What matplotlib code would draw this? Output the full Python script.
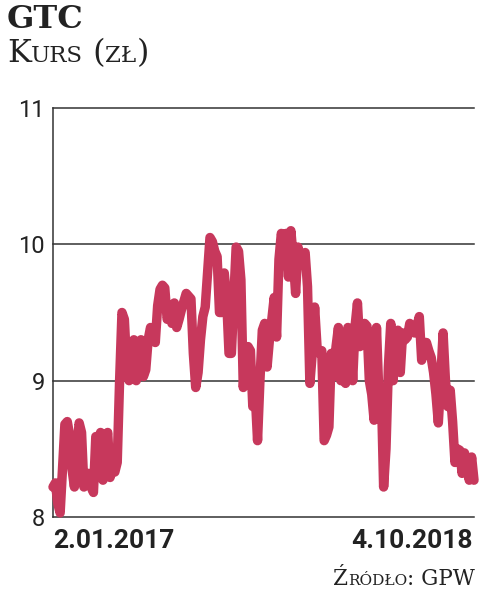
import matplotlib
matplotlib.use("Agg")
import matplotlib.pyplot as plt
import pandas as pd

# kurs GTC (zł), 2.01.2017 - 4.10.2018
kurs = [
    8.22, 8.25, 8.10, 8.03, 8.35, 8.68, 8.70, 8.60, 8.35, 8.22,
    8.50, 8.69, 8.62, 8.22, 8.30, 8.32, 8.22, 8.18, 8.59, 8.55,
    8.62, 8.27, 8.55, 8.62, 8.29, 8.37, 8.33, 8.40, 9.00, 9.50,
    9.45, 9.10, 9.00, 9.20, 9.30, 9.00, 9.25, 9.30, 9.03, 9.08,
    9.30, 9.39, 9.30, 9.28, 9.55, 9.67, 9.70, 9.68, 9.45, 9.50,
    9.42, 9.57, 9.39, 9.45, 9.52, 9.58, 9.64, 9.62, 9.60, 9.20,
    8.95, 9.06, 9.30, 9.47, 9.54, 9.80, 10.05, 10.02, 9.95, 9.91,
    9.50, 9.50, 9.79, 9.60, 9.20, 9.20, 9.60, 9.98, 9.95, 9.74,
    8.95, 9.20, 9.25, 9.22, 8.81, 8.91, 8.56, 9.00, 9.37, 9.42,
    9.10, 9.30, 9.45, 9.61, 9.32, 9.89, 10.08, 10.00, 10.08, 9.76,
    10.10, 9.90, 9.64, 9.98, 9.86, 9.90, 9.94, 9.69, 8.98, 9.20,
    9.54, 9.25, 9.20, 9.22, 8.56, 8.60, 8.66, 9.20, 9.03, 9.25,
    9.39, 9.00, 9.35, 8.98, 9.39, 9.37, 9.00, 9.40, 9.57, 9.25,
    9.35, 9.42, 9.40, 9.00, 8.90, 8.71, 9.39, 8.90, 8.95, 8.22,
    8.50, 9.10, 9.42, 9.00, 9.30, 9.37, 9.06, 9.35, 9.30, 9.32,
    9.42, 9.38, 9.35, 9.40, 9.47, 9.15, 9.28, 9.28, 9.22, 9.17,
    9.06, 8.90, 8.69, 9.00, 9.35, 9.00, 8.81, 8.93, 8.70, 8.40,
    8.50, 8.49, 8.32, 8.47, 8.40, 8.27, 8.44, 8.27,
]
start, end = "2017-01-02", "2018-10-04"
y_ticks = [8, 9, 10, 11]

LINE = "#c7385c"
DARK = "#222222"
W, H = 482, 593


def fx(px):
    return px / W


def fy(py):
    return 1 - py / H


def smallcaps(fig, x, y, parts, **kw):
    # tekst "kapitalikami": kolejne kawałki o różnych rozmiarach
    r = fig.canvas.get_renderer()
    for s, size in parts:
        t = fig.text(fx(x), fy(y), s, fontsize=size, va="baseline", ha="left", **kw)
        x += t.get_window_extent(renderer=r).width


dates = pd.date_range(start, end, periods=len(kurs))

fig = plt.figure(figsize=(4.82, 5.93), dpi=100)
ax = fig.add_axes([fx(53), fy(517), fx(474) - fx(53), fy(108) - fy(517)])

for v in y_ticks[1:]:
    ax.axhline(v, color="#333333", lw=1.1, clip_on=False, zorder=1)

ax.plot(dates, kurs, color=LINE, lw=6.8, solid_joinstyle="round",
        solid_capstyle="round", clip_on=False, zorder=3)

ax.set_xlim(dates[0], dates[-1])
ax.set_ylim(8, 11)
ax.set_yticks(y_ticks)
ax.set_yticklabels([str(v) for v in y_ticks], fontfamily="Roboto",
                   fontweight="normal", fontsize=17, color=DARK)
ax.tick_params(axis="y", length=0, pad=6)
ax.set_xticks([])
for s in ["top", "right"]:
    ax.spines[s].set_visible(False)
for s in ["left", "bottom"]:
    ax.spines[s].set_color("#333333")
    ax.spines[s].set_linewidth(1.1)

# daty na krańcach osi
d0, d1 = dates[0], dates[-1]
lab = lambda d: f"{d.day}.{d.month:02d}.{d.year}"
fig.text(fx(53), fy(548), lab(d0), fontfamily="Roboto", fontweight="bold",
         fontsize=19, color=DARK, ha="left", va="baseline")
fig.text(fx(473), fy(548), lab(d1), fontfamily="Roboto", fontweight="bold",
         fontsize=19, color=DARK, ha="right", va="baseline")

# tytuł
fig.text(fx(7), fy(28), "GTC", fontfamily="DejaVu Serif", fontweight="bold",
         fontsize=23, color=DARK, va="baseline")
smallcaps(fig, 7, 62, [("K", 23), ("URS", 16.5), (" (", 23), ("ZŁ", 16.5), (")", 23)],
          fontfamily="DejaVu Serif", color=DARK)

# źródło
smallcaps(fig, 333, 585, [("Ź", 15.5), ("RÓDŁO", 11), (": GPW", 15.5)],
          fontfamily="DejaVu Serif", color=DARK)

fig.savefig("out.png", dpi=100, facecolor="white")
